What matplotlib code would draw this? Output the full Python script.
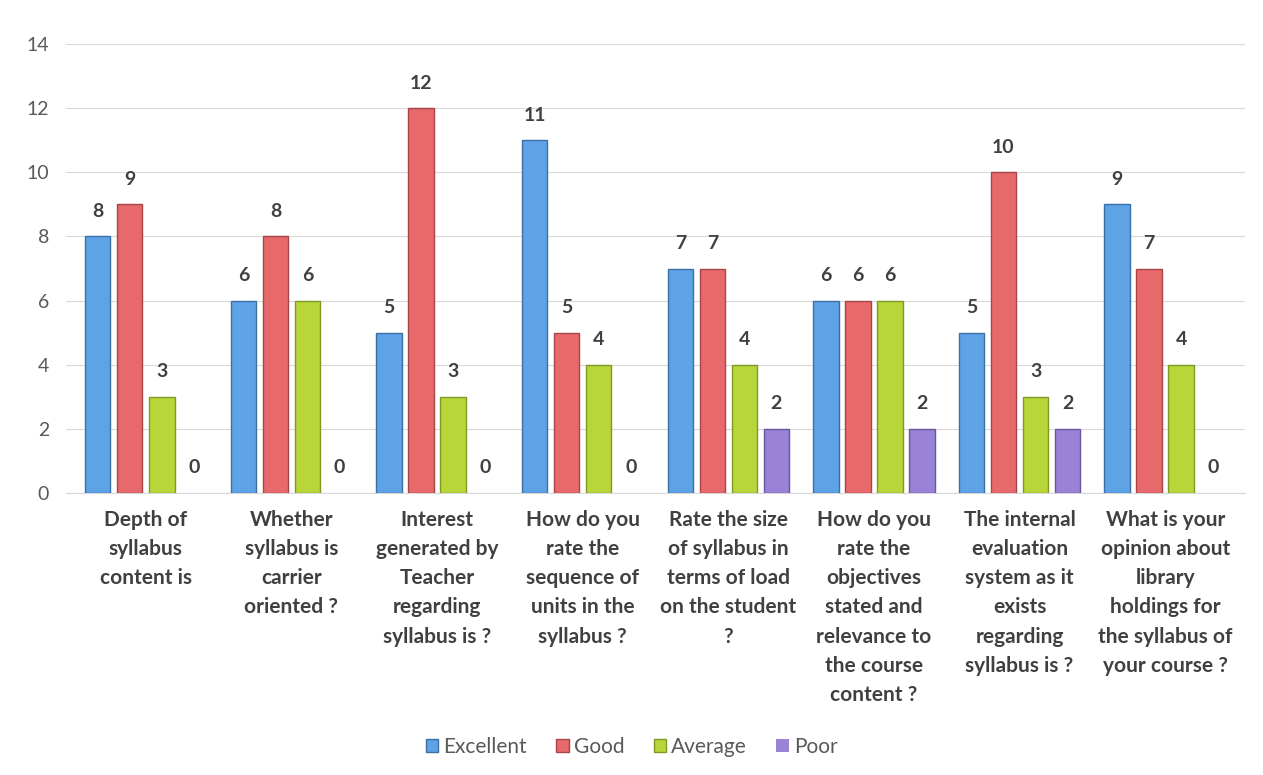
import matplotlib
matplotlib.use("Agg")
import matplotlib.pyplot as plt
import numpy as np

plt.rcParams['font.family'] = ['Lato', 'DejaVu Sans']

categories = [
    "Depth of\nsyllabus\ncontent is",
    "Whether\nsyllabus is\ncarrier\noriented ?",
    "Interest\ngenerated by\nTeacher\nregarding\nsyllabus is ?",
    "How do you\nrate the\nsequence of\nunits in the\nsyllabus ?",
    "Rate the size\nof syllabus in\nterms of load\non the student\n?",
    "How do you\nrate the\nobjectives\nstated and\nrelevance to\nthe course\ncontent ?",
    "The internal\nevaluation\nsystem as it\nexists\nregarding\nsyllabus is ?",
    "What is your\nopinion about\nlibrary\nholdings for\nthe syllabus of\nyour course ?",
]
series_names = ["Excellent", "Good", "Average", "Poor"]
excellent = [8, 6, 5, 11, 7, 6, 5, 9]
good = [9, 8, 12, 5, 7, 6, 10, 7]
average = [3, 6, 3, 4, 4, 6, 3, 4]
poor = [0, 0, 0, 0, 2, 2, 2, 0]
yticks = [0, 2, 4, 6, 8, 10, 12, 14]

colors = ["#5DA3E6", "#E8696B", "#B8D63A", "#9A82D6"]
edges = ["#3A6FA8", "#A84447", "#7E9A22", "#6A55A0"]

fig = plt.figure(figsize=(12.63, 7.75), dpi=100)
ax = fig.add_axes([0.052, 0.364, 0.934, 0.579])

x = np.arange(len(categories))
w = 0.175
pitch = 0.22
data = [excellent, good, average, poor]
for i, (vals, name) in enumerate(zip(data, series_names)):
    pos = x + (i - 1.5) * pitch
    ec = [edges[i] if v > 0 else 'none' for v in vals]
    ax.bar(pos, vals, width=w, color=colors[i], edgecolor=ec,
           linewidth=1.0, label=name, zorder=3)
    for p, v in zip(pos, vals):
        ax.text(p, v + 0.78, str(v), ha='center', va='center',
                fontsize=14, fontweight='bold', color='#404040')

ax.set_ylim(0, 14)
ax.set_xlim(-0.55, len(categories) - 0.45)
ax.set_yticks(yticks)
ax.tick_params(axis='y', length=0, labelsize=14, labelcolor='#595959', pad=12)
ax.tick_params(axis='x', length=0, pad=12)
ax.set_xticks(x)
ax.set_xticklabels(categories, fontsize=15, fontweight='bold', color='#404040',
                   linespacing=1.58)
ax.yaxis.grid(True, color='#D9D9D9', linewidth=0.8, zorder=0)
for s in ['top', 'right', 'left']:
    ax.spines[s].set_visible(False)
ax.spines['bottom'].set_color('#D9D9D9')

handles, labels = ax.get_legend_handles_labels()
fig.legend(handles, labels, loc='center', bbox_to_anchor=(0.5, 0.036), ncol=4,
           frameon=False, fontsize=15, handlelength=0.6, handleheight=0.6,
           handletextpad=0.25, columnspacing=1.4, labelcolor='#595959')

fig.savefig("out.png", dpi=100, facecolor='white')
